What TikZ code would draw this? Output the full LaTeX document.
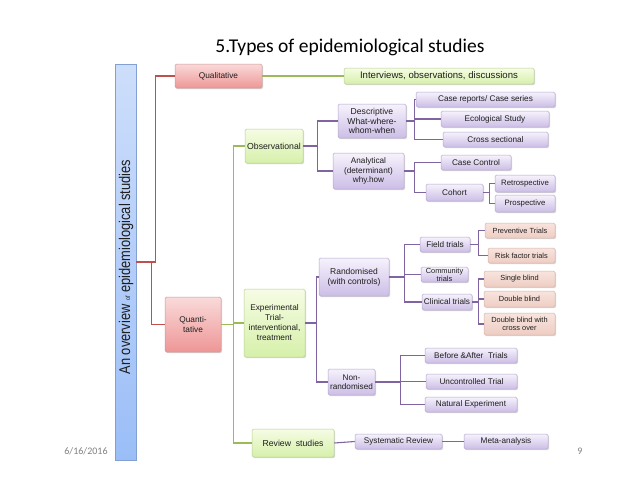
\documentclass[tikz,border=0pt]{standalone}
\usepackage{fontspec}
\setmainfont{Liberation Sans}
\newfontfamily\calib{Carlito}
\usetikzlibrary{shadows}
\definecolor{redtop}{RGB}{250,218,218}
\definecolor{redbot}{RGB}{238,150,150}
\definecolor{reddraw}{RGB}{205,150,150}
\definecolor{grntop}{RGB}{246,252,228}
\definecolor{grnbot}{RGB}{214,240,170}
\definecolor{grndraw}{RGB}{185,205,150}
\definecolor{purtop}{RGB}{246,242,252}
\definecolor{purbot}{RGB}{204,190,230}
\definecolor{purdraw}{RGB}{180,165,205}
\definecolor{saltop}{RGB}{248,228,222}
\definecolor{salbot}{RGB}{238,205,195}
\definecolor{saldraw}{RGB}{210,180,170}
\definecolor{blutop}{RGB}{205,222,250}
\definecolor{blubot}{RGB}{155,190,248}
\definecolor{bludraw}{RGB}{130,160,210}
\definecolor{redln}{RGB}{192,80,77}
\definecolor{grnln}{RGB}{155,187,89}
\definecolor{purln}{RGB}{128,100,162}
\definecolor{txt}{RGB}{30,30,30}
\tikzset{
  sz/.style 2 args={minimum width=#1pt, minimum height=#2pt},
  basebox/.style={rectangle, rounded corners=1.5pt, inner sep=0pt, align=center,
    line width=0.5pt, text=txt,
    drop shadow={shadow xshift=1.2pt, shadow yshift=-1.2pt, opacity=0.25, fill=black!60}},
  redbox/.style={basebox, top color=redtop, bottom color=redbot, draw=reddraw, font=\fontsize{8.3}{9.5}\selectfont},
  grnbox/.style={basebox, top color=grntop, bottom color=grnbot, draw=grndraw, font=\fontsize{8.7}{9.8}\selectfont},
  purbox/.style={basebox, top color=purtop, bottom color=purbot, draw=purdraw, font=\fontsize{8.2}{9.2}\selectfont},
  salbox/.style={basebox, top color=saltop, bottom color=salbot, draw=saldraw, font=\fontsize{7.4}{8.4}\selectfont},
  redline/.style={draw=redln, line width=1.1pt},
  grnline/.style={draw=grnln, line width=1.1pt},
  purline/.style={draw=purln, line width=1.1pt},
}
\begin{document}
\begin{tikzpicture}[x=1pt,y=-1pt]
\useasboundingbox (0,0) rectangle (638,493);
% title and footer
\node[anchor=base, font=\calib\fontsize{19.5}{22}\selectfont] (title) at (350,52) {5.Types of epidemiological studies};
\node[anchor=base, font=\calib\fontsize{10}{12}\selectfont, text=black!50] (date) at (86,454) {6/16/2016};
\node[anchor=base, font=\calib\fontsize{10}{12}\selectfont, text=black!50] (page) at (580,454) {9};
% side bar
\node[rectangle, inner sep=0pt, sz={21}{396}, top color=blutop, bottom color=blubot, draw=bludraw, line width=0.5pt,
  drop shadow={shadow xshift=1.2pt, shadow yshift=-1.2pt, opacity=0.25, fill=black!60}] (bar) at (125.5,262) {};
\node[rotate=90, inner sep=0pt, text=txt] (bartext) at (126,267)
  {\scalebox{0.83}[1]{\fontsize{15.5}{17}\selectfont An overview {\fontsize{6.5}{8}\selectfont of} epidemiological studies}};
% level 1
\node[redbox, sz={87}{24}] (qual) at (218.5,76) {Qualitative};
\node[grnbox, sz={190}{16}, font=\fontsize{9.6}{11}\selectfont] (inter) at (439,76) {Interviews, observations, discussions};
\node[redbox, sz={56}{55}] (quant) at (193,324.5) {Quanti-\\tative};
% quantitative branches
\node[grnbox, sz={58}{34}] (obs) at (274,146) {Observational};
\node[grnbox, sz={61}{68}, font=\fontsize{8.3}{10}\selectfont] (exper) at (274.5,323) {Experimental\\Trial-\\interventional,\\treatment};
\node[grnbox, sz={82}{28}] (review) at (293,443) {Review\ \ studies};
% observational
\node[purbox, sz={68}{34}, font=\fontsize{8.6}{9.6}\selectfont] (desc) at (372,121) {Descriptive\\What-where-\\whom-when};
\node[purbox, sz={71}{36}] (anal) at (368.5,171) {Analytical\\(determinant)\\why.how};
\node[purbox, sz={139}{15}] (casereports) at (485.5,99.5) {Case reports/ Case series};
\node[purbox, sz={108}{16}] (eco) at (495,119) {Ecological Study};
\node[purbox, sz={105}{15}] (cross) at (495.5,139.5) {Cross sectional};
\node[purbox, sz={70}{15}] (casecontrol) at (476,162.5) {Case Control};
\node[purbox, sz={57}{17}] (cohort) at (454.5,192.5) {Cohort};
\node[purbox, sz={60}{17}, font=\fontsize{7.8}{9}\selectfont] (retro) at (525,183.5) {Retrospective};
\node[purbox, sz={60}{17}, font=\fontsize{7.8}{9}\selectfont] (prosp) at (525,203.5) {Prospective};
% experimental
\node[purbox, sz={70}{38}, font=\fontsize{8.5}{10}\selectfont] (random) at (354,277) {Randomised\\(with controls)};
\node[purbox, sz={50}{15}] (field) at (445,244.5) {Field trials};
\node[purbox, sz={47}{15}, font=\fontsize{7.4}{6.8}\selectfont] (community) at (444.5,274.5) {Community\\trials};
\node[purbox, sz={50}{16}] (clinical) at (447,302) {Clinical trials};
\node[salbox, sz={70}{15}] (prevent) at (520,230.5) {Preventive Trials};
\node[salbox, sz={67}{15}] (risk) at (521.5,255.5) {Risk factor trials};
\node[salbox, sz={71}{16}] (single) at (519.5,279) {Single blind};
\node[salbox, sz={71}{16}] (double) at (519.5,299) {Double blind};
\node[salbox, sz={71}{22}] (doublecross) at (519.5,324) {Double blind with\\cross over};
\node[purbox, sz={47}{26}] (nonrand) at (351.5,382) {Non-\\randomised};
\node[purbox, sz={92}{15}] (before) at (471,355.5) {Before \&After\ \ Trials};
\node[purbox, sz={91}{15}] (uncontrolled) at (471.5,381.5) {Uncontrolled Trial};
\node[purbox, sz={92}{15}] (natural) at (471,404.5) {Natural Experiment};
% review
\node[purbox, sz={87}{15}] (systematic) at (398.5,441.5) {Systematic Review};
\node[purbox, sz={84}{15}] (meta) at (506,441.5) {Meta-analysis};
% connectors
\draw[redline] (bar.east) -- ++(19,0) |- (qual.west);
\draw[redline] (bar.east) -- ++(15,0) |- (quant.west);
\draw[grnline] (qual.east) -- (inter.west);
\draw[grnline] (quant.east) -- ++(12,0) |- (obs.west);
\draw[grnline] (quant.east) -- ++(12,0) |- (exper.west);
\draw[grnline] (quant.east) -- ++(12,0) |- (review.west);
\draw[purline] (obs.east) -- ++(14,0) |- (desc.west);
\draw[purline] (obs.east) -- ++(14,0) |- (anal.west);
\draw[purline] (desc.east) -- ++(8,0) |- (casereports.west);
\draw[purline] (desc.east) -- ++(8,0) |- (eco.west);
\draw[purline] (desc.east) -- ++(8,0) |- (cross.west);
\draw[purline] (anal.east) -- ++(10,0) |- (casecontrol.west);
\draw[purline] (anal.east) -- ++(10,0) |- (cohort.west);
\draw[purline] (cohort.east) -- ++(6,0) |- (retro.west);
\draw[purline] (cohort.east) -- ++(6,0) |- (prosp.west);
\draw[purline] (exper.east) -- ++(11,0) |- (random.west);
\draw[purline] (exper.east) -- ++(11,0) |- (nonrand.west);
\draw[purline] (random.east) -- ++(15,0) |- (field.west);
\draw[purline] (random.east) -- ++(15,0) |- (community.west);
\draw[purline] (random.east) -- ++(15,0) |- (clinical.west);
\draw[purline] (field.east) -- ++(8,0) |- (prevent.west);
\draw[purline] (field.east) -- ++(8,0) |- (risk.west);
\draw[purline] (clinical.east) -- ++(6,0) |- (single.west);
\draw[purline] (clinical.east) -- ++(6,0) |- (double.west);
\draw[purline] (clinical.east) -- ++(6,0) |- (doublecross.west);
\draw[purline] (nonrand.east) -- ++(25,0) |- (before.west);
\draw[purline] (nonrand.east) -- ++(25,0) |- (uncontrolled.west);
\draw[purline] (nonrand.east) -- ++(25,0) |- (natural.west);
\draw[purline] (review.east) -- (systematic.west);
\draw[purline] (systematic.east) -- (meta.west);
\end{tikzpicture}
\end{document}
